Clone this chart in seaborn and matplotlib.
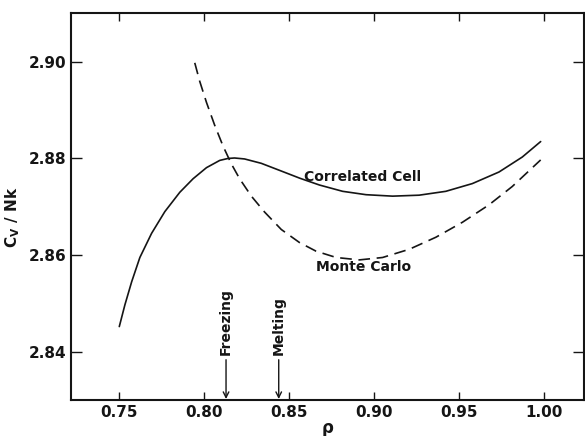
import numpy as np
import pandas as pd
import seaborn as sns
import matplotlib
matplotlib.use("Agg")
import matplotlib.pyplot as plt

# Correlated cell curve (solid)
cc_rho = [0.7502, 0.7535, 0.7575, 0.7623, 0.7692, 0.7770, 0.7858, 0.7936, 0.8015, 0.8093,
          0.8141, 0.8180, 0.8239, 0.8337, 0.8455, 0.8565, 0.8680, 0.8816, 0.8954, 0.9110,
          0.9266, 0.9423, 0.9579, 0.9736, 0.9873, 0.9981]
cc_cv = [2.8452, 2.8497, 2.8545, 2.8595, 2.8645, 2.8690, 2.8730, 2.8758, 2.8781, 2.8796,
         2.8800, 2.8801, 2.8799, 2.8790, 2.8774, 2.8759, 2.8745, 2.8732, 2.8725, 2.8722,
         2.8724, 2.8732, 2.8748, 2.8772, 2.8803, 2.8835]

# Monte Carlo curve (dashed)
mc_rho = [0.7946, 0.7975, 0.8015, 0.8063, 0.8112, 0.8161, 0.8210, 0.8279, 0.8357, 0.8455,
          0.8562, 0.8660, 0.8778, 0.8914, 0.9051, 0.9208, 0.9365, 0.9521, 0.9677, 0.9814,
          0.9981]
mc_cv = [2.8998, 2.8960, 2.8916, 2.8869, 2.8826, 2.8789, 2.8758, 2.8722, 2.8689, 2.8653,
         2.8626, 2.8608, 2.8595, 2.8590, 2.8595, 2.8612, 2.8637, 2.8668, 2.8704, 2.8742,
         2.8797]

freezing_rho = 0.813
melting_rho = 0.844

xticks = [0.75, 0.80, 0.85, 0.90, 0.95, 1.00]
yticks = [2.84, 2.86, 2.88, 2.90]

sns.set_style("ticks")
plt.rcParams['font.family'] = ['DejaVu Sans']
plt.rcParams['font.weight'] = 'bold'
plt.rcParams['mathtext.default'] = 'bf'

ink = '#151515'

fig = plt.figure(figsize=(5.85, 4.36), dpi=100)
ax = fig.add_axes([0.1214, 0.0826, 0.8766, 0.8874])

cc = pd.DataFrame({'rho': cc_rho, 'cv': cc_cv})
mc = pd.DataFrame({'rho': mc_rho, 'cv': mc_cv})
sns.lineplot(data=cc, x='rho', y='cv', ax=ax, color=ink, linewidth=1.2, sort=False)
sns.lineplot(data=mc, x='rho', y='cv', ax=ax, color=ink, linewidth=1.2, sort=False,
             dashes=False, linestyle=(0, (7, 4)))

ax.set_xlim(0.7218, 1.0235)
ax.set_ylim(2.830, 2.9101)
ax.set_xticks(xticks)
ax.set_xticklabels(['%.2f' % v for v in xticks], fontsize=11, fontweight='bold', color=ink)
ax.set_yticks(yticks)
ax.set_yticklabels(['%.2f' % v for v in yticks], fontsize=11, fontweight='bold', color=ink)
ax.tick_params(direction='in', top=True, right=True, length=6, width=1, colors=ink,
               labelcolor=ink)
ax.tick_params(axis='y', length=8)
for s in ax.spines.values():
    s.set_linewidth(1.5)
    s.set_color(ink)

ax.set_xlabel('ρ', fontsize=12, fontweight='bold', color=ink)
ax.xaxis.set_label_coords(0.5, -0.048)
ax.set_ylabel(r'C$_{\mathbf{V}}$ / Nk', fontsize=11, fontweight='bold', color=ink)
ax.yaxis.set_label_coords(-0.096, 0.473)

ax.text(0.859, 2.8762, 'Correlated Cell', fontsize=10, fontweight='bold', color=ink,
        va='center', ha='left')
ax.text(0.866, 2.8576, 'Monte Carlo', fontsize=10, fontweight='bold', color=ink,
        va='center', ha='left')

for name, rho in [('Freezing', freezing_rho), ('Melting', melting_rho)]:
    ax.annotate(name, xy=(rho, 2.8302), xytext=(rho, 2.8393), rotation=90,
                ha='center', va='bottom', fontsize=10, fontweight='bold', color=ink,
                arrowprops=dict(arrowstyle='->', color=ink, lw=1, shrinkA=1, shrinkB=0))

fig.savefig('out.png', dpi=100)
